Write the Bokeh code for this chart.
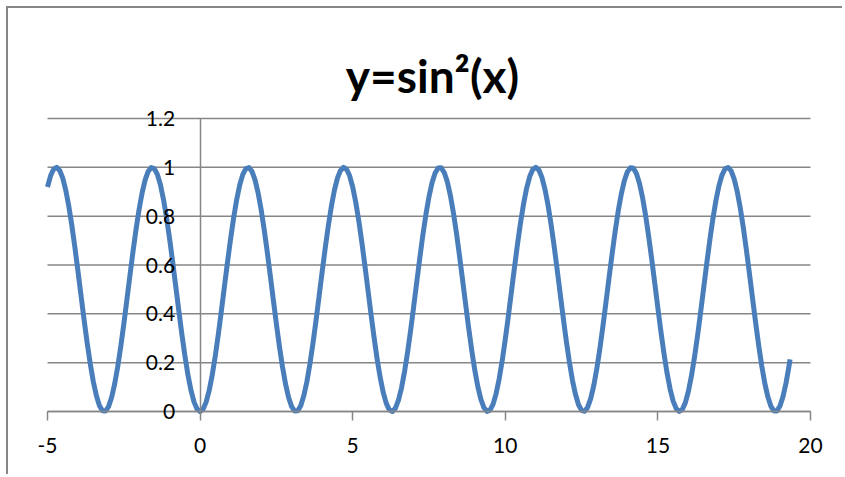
from bokeh.plotting import figure
from bokeh.models import FixedTicker, Label, Range1d
from bokeh.embed import file_html
from bokeh.resources import INLINE

title_text = "y=sin²(x)"

x_values = [
    -5.0, -4.9, -4.8, -4.7, -4.6, -4.5, -4.4, -4.3, -4.2, -4.1,
    -4.0, -3.9, -3.8, -3.7, -3.6, -3.5, -3.4, -3.3, -3.2, -3.1,
    -3.0, -2.9, -2.8, -2.7, -2.6, -2.5, -2.4, -2.3, -2.2, -2.1,
    -2.0, -1.9, -1.8, -1.7, -1.6, -1.5, -1.4, -1.3, -1.2, -1.1,
    -1.0, -0.9, -0.8, -0.7, -0.6, -0.5, -0.4, -0.3, -0.2, -0.1,
    0.0, 0.1, 0.2, 0.3, 0.4, 0.5, 0.6, 0.7, 0.8, 0.9,
    1.0, 1.1, 1.2, 1.3, 1.4, 1.5, 1.6, 1.7, 1.8, 1.9,
    2.0, 2.1, 2.2, 2.3, 2.4, 2.5, 2.6, 2.7, 2.8, 2.9,
    3.0, 3.1, 3.2, 3.3, 3.4, 3.5, 3.6, 3.7, 3.8, 3.9,
    4.0, 4.1, 4.2, 4.3, 4.4, 4.5, 4.6, 4.7, 4.8, 4.9,
    5.0, 5.1, 5.2, 5.3, 5.4, 5.5, 5.6, 5.7, 5.8, 5.9,
    6.0, 6.1, 6.2, 6.3, 6.4, 6.5, 6.6, 6.7, 6.8, 6.9,
    7.0, 7.1, 7.2, 7.3, 7.4, 7.5, 7.6, 7.7, 7.8, 7.9,
    8.0, 8.1, 8.2, 8.3, 8.4, 8.5, 8.6, 8.7, 8.8, 8.9,
    9.0, 9.1, 9.2, 9.3, 9.4, 9.5, 9.6, 9.7, 9.8, 9.9,
    10.0, 10.1, 10.2, 10.3, 10.4, 10.5, 10.6, 10.7, 10.8, 10.9,
    11.0, 11.1, 11.2, 11.3, 11.4, 11.5, 11.6, 11.7, 11.8, 11.9,
    12.0, 12.1, 12.2, 12.3, 12.4, 12.5, 12.6, 12.7, 12.8, 12.9,
    13.0, 13.1, 13.2, 13.3, 13.4, 13.5, 13.6, 13.7, 13.8, 13.9,
    14.0, 14.1, 14.2, 14.3, 14.4, 14.5, 14.6, 14.7, 14.8, 14.9,
    15.0, 15.1, 15.2, 15.3, 15.4, 15.5, 15.6, 15.7, 15.8, 15.9,
    16.0, 16.1, 16.2, 16.3, 16.4, 16.5, 16.6, 16.7, 16.8, 16.9,
    17.0, 17.1, 17.2, 17.3, 17.4, 17.5, 17.6, 17.7, 17.8, 17.9,
    18.0, 18.1, 18.2, 18.3, 18.4, 18.5, 18.6, 18.7, 18.8, 18.9,
    19.0, 19.1, 19.2, 19.3, 19.33,
]

y_values = [
    0.9195, 0.9652, 0.9924, 0.9998, 0.9874, 0.9556, 0.9055, 0.8394, 0.7597, 0.6696,
    0.5728, 0.4730, 0.3744, 0.2807, 0.1958, 0.1230, 0.0653, 0.0249, 0.0034, 0.0017,
    0.0199, 0.0572, 0.1122, 0.1827, 0.2657, 0.3582, 0.4563, 0.5561, 0.6537, 0.7451,
    0.8268, 0.8955, 0.9484, 0.9834, 0.9991, 0.9950, 0.9711, 0.9284, 0.8687, 0.7943,
    0.7081, 0.6136, 0.5146, 0.4150, 0.3188, 0.2298, 0.1516, 0.0873, 0.0395, 0.0100,
    0.0000, 0.0100, 0.0395, 0.0873, 0.1516, 0.2298, 0.3188, 0.4150, 0.5146, 0.6136,
    0.7081, 0.7943, 0.8687, 0.9284, 0.9711, 0.9950, 0.9991, 0.9834, 0.9484, 0.8955,
    0.8268, 0.7451, 0.6537, 0.5561, 0.4563, 0.3582, 0.2657, 0.1827, 0.1122, 0.0572,
    0.0199, 0.0017, 0.0034, 0.0249, 0.0653, 0.1230, 0.1958, 0.2807, 0.3744, 0.4730,
    0.5728, 0.6696, 0.7597, 0.8394, 0.9055, 0.9556, 0.9874, 0.9998, 0.9924, 0.9652,
    0.9195, 0.8571, 0.7805, 0.6927, 0.5972, 0.4978, 0.3985, 0.3033, 0.2159, 0.1398,
    0.0781, 0.0332, 0.0069, 0.0003, 0.0136, 0.0463, 0.0971, 0.1639, 0.2441, 0.3346,
    0.4316, 0.5312, 0.6299, 0.7240, 0.8078, 0.8798, 0.9369, 0.9765, 0.9971, 0.9979,
    0.9788, 0.9407, 0.8850, 0.8139, 0.7303, 0.6376, 0.5393, 0.4395, 0.3421, 0.2510,
    0.1698, 0.1018, 0.0497, 0.0155, 0.0006, 0.0056, 0.0304, 0.0738, 0.1343, 0.2093,
    0.2960, 0.3907, 0.4898, 0.5893, 0.6853, 0.7739, 0.8515, 0.9151, 0.9622, 0.9913,
    1.0000, 0.9891, 0.9588, 0.9102, 0.8452, 0.7664, 0.6771, 0.5806, 0.4810, 0.3821,
    0.2879, 0.2022, 0.1283, 0.0693, 0.0274, 0.0044, 0.0011, 0.0177, 0.0536, 0.1072,
    0.1765, 0.2587, 0.3505, 0.4484, 0.5481, 0.6457, 0.7382, 0.8211, 0.8905, 0.9449,
    0.9813, 0.9986, 0.9961, 0.9737, 0.9325, 0.8740, 0.8007, 0.7153, 0.6215, 0.5227,
    0.4229, 0.3263, 0.2366, 0.1574, 0.0919, 0.0426, 0.0116, 0.0001, 0.0084, 0.0364,
    0.0829, 0.1460, 0.2232, 0.3113, 0.4071, 0.5063, 0.6057, 0.7009, 0.7878, 0.8632,
    0.9243, 0.9684, 0.9938, 0.9996, 0.9854, 0.9519, 0.9003, 0.8328, 0.7520, 0.6612,
    0.5640, 0.4643, 0.3659, 0.2729, 0.1889, 0.1173, 0.0610, 0.0222, 0.0025, 0.0025,
    0.0225, 0.0614, 0.1178, 0.1895, 0.2135,
]

x_ticks = [-5, 0, 5, 10, 15, 20]
x_tick_labels = ["-5", "0", "5", "10", "15", "20"]
y_ticks = [0, 0.2, 0.4, 0.6, 0.8, 1, 1.2]
y_tick_labels = ["0", "0.2", "0.4", "0.6", "0.8", "1", "1.2"]

GRAY = "#868686"
BLUE = "#4a7ebb"
FONT = "Lato"

p = figure(
    width=836, height=468,
    output_backend="svg", toolbar_location=None,
    x_range=Range1d(-6.2779, 21.1140), y_range=Range1d(-0.2662, 1.6505),
    min_border_left=0, min_border_top=0, min_border_right=0, min_border_bottom=0,
)
p.styles = {
    "margin-left": "6px", "margin-top": "6px",
    "border-left": "2px solid #868686", "border-top": "2px solid #868686",
}
p.outline_line_color = None
p.background_fill_color = "white"
p.border_fill_color = "white"
p.xgrid.visible = False
p.ygrid.visible = False

# horizontal gridlines spanning the x axis extent
n = len(y_ticks)
p.segment(x0=[x_ticks[0]] * n, x1=[x_ticks[-1]] * n, y0=y_ticks, y1=y_ticks,
          line_color=GRAY, line_width=1.5)

p.line(x_values, y_values, line_color=BLUE, line_width=5, line_join="round")

xa = p.xaxis[0]
xa.fixed_location = 0
xa.bounds = (x_ticks[0], x_ticks[-1])
xa.ticker = FixedTicker(ticks=x_ticks)
xa.major_label_overrides = {t: l for t, l in zip(x_ticks, x_tick_labels)}
xa.axis_line_color = GRAY
xa.axis_line_width = 1.5
xa.major_tick_line_color = GRAY
xa.major_tick_line_width = 1.5
xa.major_tick_in = 0
xa.major_tick_out = 9
xa.minor_tick_line_color = None
xa.major_label_standoff = 17
xa.major_label_text_font = FONT
xa.major_label_text_font_size = "21px"
xa.major_label_text_color = "black"

ya = p.yaxis[0]
ya.fixed_location = 0
ya.bounds = (y_ticks[0], y_ticks[-1])
ya.ticker = FixedTicker(ticks=y_ticks)
ya.major_label_overrides = {t: l for t, l in zip(y_ticks, y_tick_labels)}
ya.axis_line_color = GRAY
ya.axis_line_width = 1.5
ya.major_tick_line_color = None
ya.major_tick_in = 0
ya.major_tick_out = 0
ya.minor_tick_line_color = None
ya.major_label_standoff = 25
ya.major_label_text_font = FONT
ya.major_label_text_font_size = "21px"
ya.major_label_text_color = "black"
if "major_label_background_fill_color" in ya.properties():
    ya.major_label_background_fill_color = "white"

title = Label(
    x=7.615, y=1.376, text=title_text,
    text_font=FONT, text_font_style="bold", text_font_size="46px",
    text_align="center", text_baseline="alphabetic", text_color="black",
)
p.add_layout(title)

open("out.html", "w").write(file_html(p, INLINE))
